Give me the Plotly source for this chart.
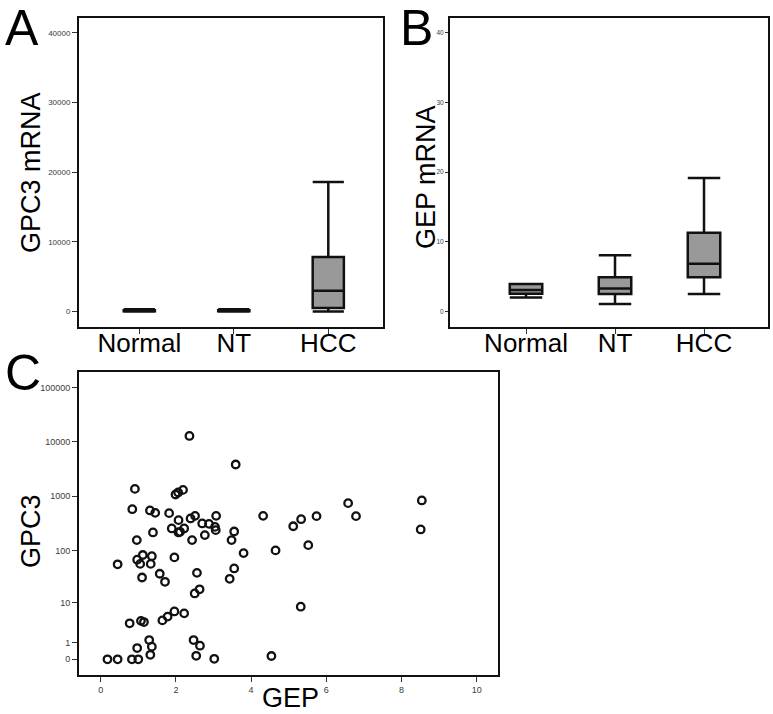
import numpy as np
import plotly.graph_objects as go

# ---------------- data ----------------
categories = ["Normal", "NT", "HCC"]

# Panel A: GPC3 mRNA box statistics
gpc3_lower = [0, 0, 0]
gpc3_q1 = [20, 20, 490]
gpc3_median = [60, 60, 2975]
gpc3_q3 = [150, 150, 7820]
gpc3_upper = [300, 300, 18590]

# Panel B: GEP mRNA box statistics
gep_lower = [2.01, 1.06, 2.5]
gep_q1 = [2.54, 2.5, 4.89]
gep_median = [3.07, 3.3, 6.85]
gep_q3 = [3.94, 4.89, 11.3]
gep_upper = [3.95, 8.05, 19.17]

# Panel C: scatter GEP vs GPC3
scatter_gep = [2.36, 3.59, 0.91, 1.99, 2.06, 2.19, 0.84, 1.31, 1.45, 1.82,
               2.07, 2.39, 2.51, 3.07, 2.70, 2.88, 3.04, 3.06, 1.89, 2.07,
               2.11, 2.22, 1.39, 2.43, 2.77, 3.55, 3.48, 4.32, 5.12, 5.33,
               5.74, 6.58, 6.79, 8.54, 8.51, 4.65, 5.52, 0.96, 3.80, 1.96,
               0.45, 0.97, 1.05, 1.12, 1.36, 1.33, 3.55, 1.10, 1.57, 1.71,
               2.56, 2.50, 2.63, 3.43, 0.77, 1.07, 1.15, 1.64, 1.78, 1.96,
               2.22, 5.32, 1.29, 0.97, 1.36, 1.32, 0.18, 0.45, 0.83, 1.00,
               2.47, 2.64, 2.54, 3.02, 4.54]
scatter_gpc3 = [12900, 3840, 1366, 1078, 1175, 1310, 578, 547, 494, 488,
                363, 390, 435, 435, 315, 310, 272, 237, 255, 215,
                221, 255, 215, 155, 192, 224, 155, 435, 280, 378,
                430, 746, 430, 837, 244, 100, 125, 155, 89, 74,
                55, 67, 56, 82, 78, 56, 46, 31, 36.5, 25.7,
                38, 15.3, 18.4, 29.3, 3.6, 4.1, 3.85, 4.2, 5.1, 6.6,
                6.0, 8.3, 1.26, 0.61, 0.71, 0.21, 0, 0, 0, 0,
                1.26, 0.78, 0.16, 0.02, 0.15]

a_ticks = [0, 10000, 20000, 30000, 40000]
b_ticks = [0, 10, 20, 30, 40]
c_xticks = [0, 2, 4, 6, 8, 10]
c_yticks = [0, 1, 10, 100, 1000, 10000, 100000]

# ---------------- figure ----------------
W, H = 773, 714
FONT = "Liberation Sans, Arial, sans-serif"
BOX_FILL = "#999999"
LINE = "#111111"

def px_x(p):
    return p / W

def px_y(p):
    return 1 - p / H

fig = go.Figure()

fig.add_trace(go.Box(
    x=categories, q1=gpc3_q1, median=gpc3_median, q3=gpc3_q3,
    lowerfence=gpc3_lower, upperfence=gpc3_upper,
    fillcolor=BOX_FILL, line=dict(color=LINE, width=2.5), width=0.33,
    whiskerwidth=1, boxpoints=False, xaxis="x", yaxis="y", showlegend=False,
    hoverinfo="skip"))

fig.add_trace(go.Box(
    x=categories, q1=gep_q1, median=gep_median, q3=gep_q3,
    lowerfence=gep_lower, upperfence=gep_upper,
    fillcolor=BOX_FILL, line=dict(color=LINE, width=2.5), width=0.365,
    whiskerwidth=1, boxpoints=False, xaxis="x2", yaxis="y2", showlegend=False,
    hoverinfo="skip"))

fig.add_trace(go.Scatter(
    x=scatter_gep, y=np.log10(np.array(scatter_gpc3) + 1), mode="markers",
    marker=dict(symbol="circle-open", size=7.5, color=LINE,
                line=dict(width=2.3)),
    xaxis="x3", yaxis="y3", showlegend=False))

axis_common = dict(showline=True, linecolor=LINE, linewidth=2, mirror=True,
                   showgrid=False, zeroline=False, ticks="outside",
                   tickcolor="#333333", tickwidth=1)
cat_font = dict(family=FONT, size=26, color="#000000")

fig.update_layout(
    width=W, height=H, margin=dict(l=0, r=0, t=0, b=0),
    paper_bgcolor="white", plot_bgcolor="white",
    xaxis=dict(domain=[px_x(79), px_x(383)], anchor="y", type="category",
               range=[-0.638, 2.579], tickfont=cat_font, ticklen=5,
               ticklabelstandoff=-13, **axis_common),
    yaxis=dict(domain=[px_y(327), px_y(18)], anchor="x",
               range=[-2240, 42150], tickvals=a_ticks, ticklen=5,
               ticktext=[str(t) for t in a_ticks],
               tickfont=dict(family=FONT, size=8, color="#3a3a3a"),
               **axis_common),
    xaxis2=dict(domain=[px_x(450), px_x(768)], anchor="y2", type="category",
                range=[-0.854, 2.719], tickfont=cat_font, ticklen=5,
                ticklabelstandoff=-13, **axis_common),
    yaxis2=dict(domain=[px_y(327), px_y(18)], anchor="x2",
                range=[-2.24, 42.15], tickvals=b_ticks, ticklen=3,
                ticktext=[str(t) for t in b_ticks],
                tickfont=dict(family=FONT, size=6.5, color="#3a3a3a"),
                **axis_common),
    xaxis3=dict(domain=[px_x(79), px_x(498)], anchor="y3",
                range=[-0.577, 10.566], tickvals=c_xticks, ticklen=5,
                ticktext=[str(t) for t in c_xticks],
                tickfont=dict(family=FONT, size=9, color="#3a3a3a"),
                **axis_common),
    yaxis3=dict(domain=[px_y(675), px_y(372)], anchor="x3",
                range=[-0.289, 5.287], ticklen=5,
                tickvals=list(np.log10(np.array(c_yticks) + 1)),
                ticktext=[str(t) for t in c_yticks],
                tickfont=dict(family=FONT, size=9, color="#3a3a3a"),
                **axis_common),
)

annos = [
    dict(text="A", x=px_x(3), y=px_y(-2), xanchor="left", yanchor="top",
         font=dict(family=FONT, size=50, color="#000")),
    dict(text="B", x=px_x(398), y=px_y(-2), xanchor="left", yanchor="top",
         font=dict(family=FONT, size=50, color="#000")),
    dict(text="C", x=px_x(3), y=px_y(343), xanchor="left", yanchor="top",
         font=dict(family=FONT, size=50, color="#000")),
    dict(text="GPC3 mRNA", x=px_x(31), y=px_y(173), textangle=-90,
         xanchor="center", yanchor="middle",
         font=dict(family=FONT, size=27, color="#000")),
    dict(text="GEP mRNA", x=px_x(426), y=px_y(177), textangle=-90,
         xanchor="center", yanchor="middle",
         font=dict(family=FONT, size=27, color="#000")),
    dict(text="GPC3", x=px_x(31), y=px_y(531), textangle=-90,
         xanchor="center", yanchor="middle",
         font=dict(family=FONT, size=27, color="#000")),
    dict(text="GEP", x=px_x(290), y=px_y(698), xanchor="center",
         yanchor="middle", font=dict(family=FONT, size=27, color="#000")),
]
for a in annos:
    a.update(xref="paper", yref="paper", showarrow=False)
fig.update_layout(annotations=annos)

fig.write_html(
    "out.html",
    config={"displayModeBar": False},
    post_script="document.body.style.margin='0';"
                "document.body.style.overflow='hidden';")
